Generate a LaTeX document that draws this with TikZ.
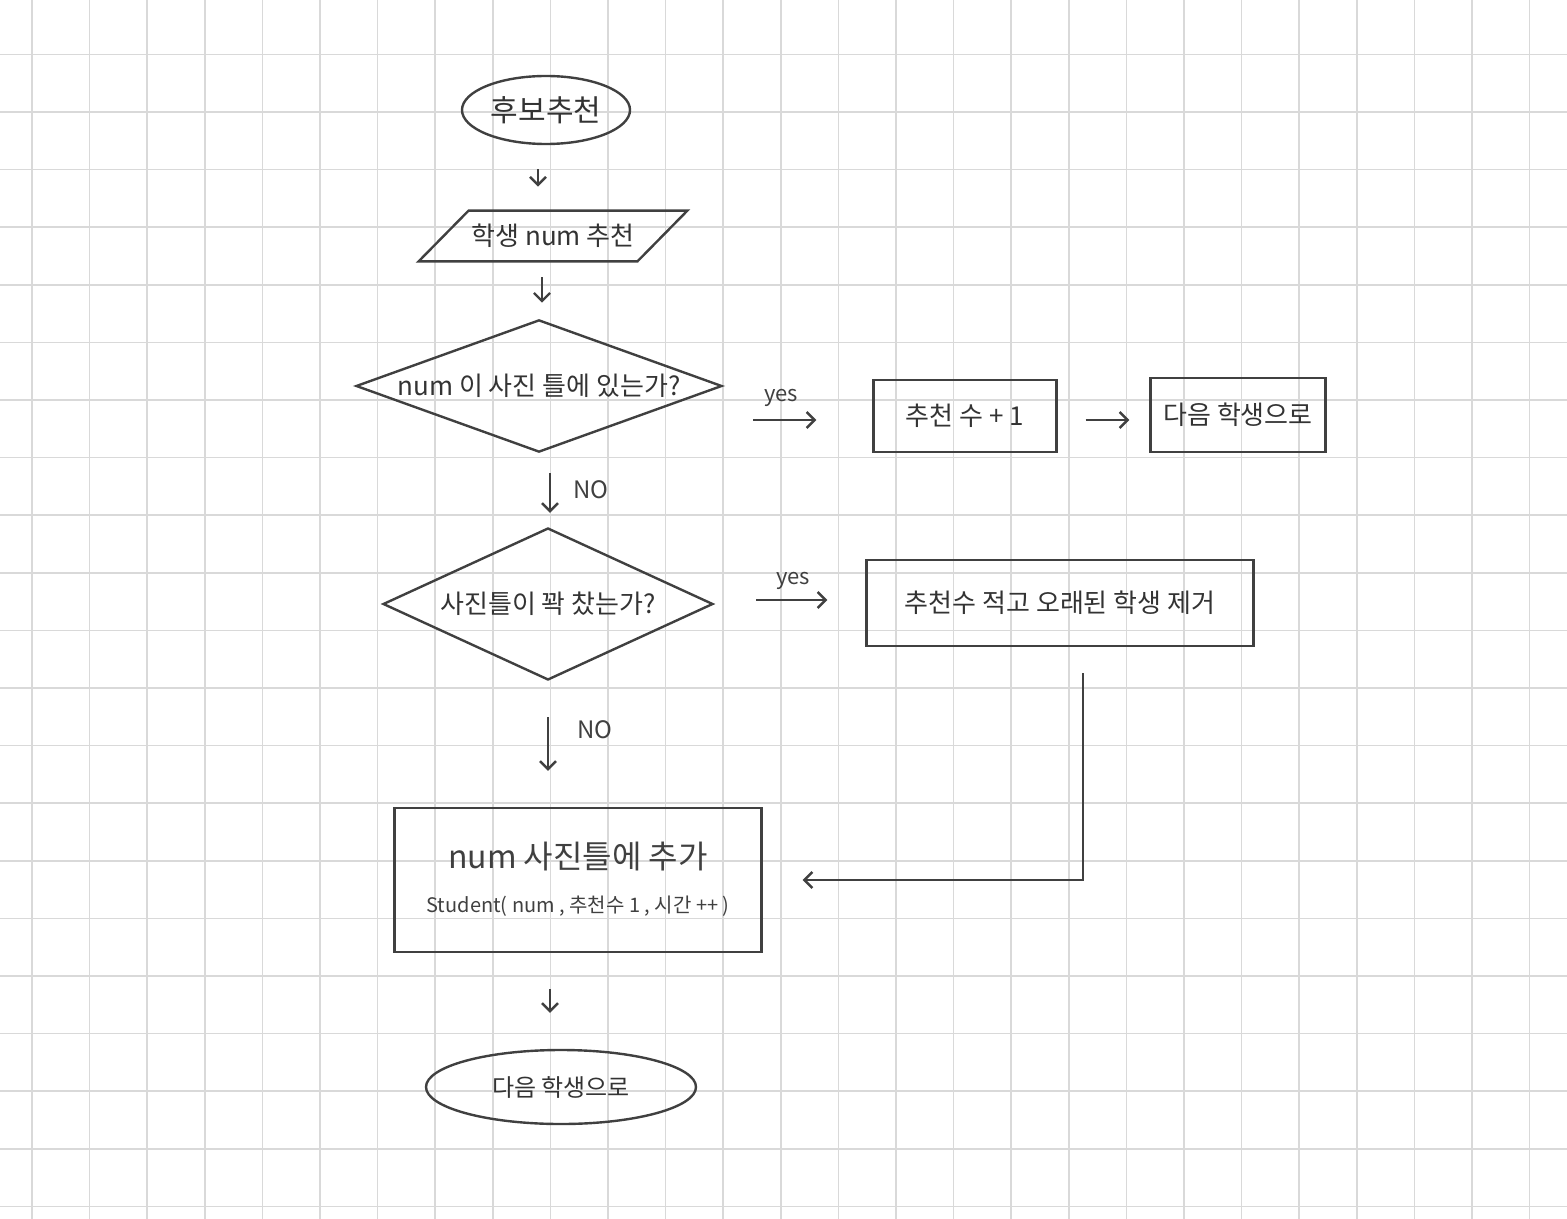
\documentclass[tikz,border=0pt]{standalone}
\usepackage{fontspec}
\setmainfont{Noto Sans CJK KR}
\usetikzlibrary{shapes.geometric,arrows.meta}
\begin{document}
\begin{tikzpicture}
		[x=0.5pt,y=-0.5pt,
		line/.style={draw=black!75,line width=1.2pt,text=black!80},
		term/.style={line,ellipse,inner sep=0pt,font=\fontsize{15}{15}\selectfont},
		inbox/.style={rectangle,inner sep=0pt,text=black!80,font=\fontsize{13}{13}\selectfont},
		decide/.style={line,diamond,aspect=2.6,inner sep=0pt,font=\fontsize{13}{13}\selectfont},
		proc/.style={line,rectangle,inner sep=0pt,font=\fontsize{13}{13}\selectfont},
		flow/.style={line,-{Straight Barb[length=4pt,width=8pt]}},
		lbl/.style={text=black!75,font=\fontsize{12}{12}\selectfont}]
		\useasboundingbox (0,0) rectangle (1567,1219);
		\foreach \x in {32,89.6,...,1567} \draw[black!15,line width=0.8pt] (\x,0) -- (\x,1219);
		\foreach \y in {54.4,112,...,1219} \draw[black!15,line width=0.8pt] (0,\y) -- (1567,\y);
		\node (start) at (546,110) [term,minimum width=84pt,minimum height=34pt] {후보추천};
		\node (input) at (553,236) [inbox,minimum width=109pt,minimum height=25pt] {학생 num 추천};
		\draw[line] ([xshift=-12.5pt]input.south west) -- ([xshift=12.5pt]input.north west)
			-- ([xshift=12.5pt]input.north east) -- ([xshift=-12.5pt]input.south east) -- cycle;
		\node (d1) at (539,386) [decide,minimum width=183pt,minimum height=65pt] {num 이 사진 틀에 있는가?};
		\node (plus) at (965,416) [proc,minimum width=91.5pt,minimum height=36pt] {추천 수 + 1};
		\node (next1) at (1238,415) [proc,minimum width=87.5pt,minimum height=37pt] {다음 학생으로};
		\node (d2) at (548,604) [decide,minimum width=165pt,minimum height=76pt] {사진틀이 꽉 찼는가?};
		\node (remove) at (1060,603) [proc,minimum width=193.5pt,minimum height=43pt] {추천수 적고 오래된 학생 제거};
		\node (add) at (578,880) [proc,minimum width=183.5pt,minimum height=72pt] {};
		\node (addtop) at (578,857) [font=\fontsize{16}{16}\selectfont,text=black!75] {num 사진틀에 추가};
		\node (addsub) at (578,906) [font=\fontsize{10}{10}\selectfont,text=black!75] {Student( num , 추천수 1 , 시간 ++ )};
		\node (next2) at (561,1087) [term,minimum width=135pt,minimum height=37pt,font=\fontsize{12}{12}\selectfont] {다음 학생으로};
		\coordinate (turn) at (1083,673);
		% connectors
		\draw[flow,shorten <=12pt,shorten >=12pt] (start.south -| 538,0) -- (input.north -| 538,0);
		\draw[flow,shorten <=8pt,shorten >=8pt] (input.south -| 542,0) -- (d1.north -| 542,0);
		\draw[flow,shorten <=10pt,shorten >=7pt] (d1.south -| 550,0) -- (d2.north -| 550,0);
		\node[lbl] at (591,490) {NO};
		\draw[flow,shorten <=18pt,shorten >=18pt] (d2.south -| 548,0) -- (add.north -| 548,0);
		\node[lbl] at (595,730) {NO};
		\draw[flow,shorten <=15pt,shorten >=28pt] (d1.east |- 0,420) -- (plus.west |- 0,420);
		\node[lbl,font=\itshape\fontsize{11}{11}\selectfont] at (781,398) {yes};
		\draw[flow,shorten <=14pt,shorten >=10pt] (plus.east |- 0,420) -- (next1.west |- 0,420);
		\draw[flow,shorten <=21pt,shorten >=19pt] (d2.east |- 0,600) -- (remove.west |- 0,600);
		\node[lbl,font=\itshape\fontsize{11}{11}\selectfont] at (793,581) {yes};
		\draw[flow] (turn) |- ([xshift=20pt]add.east);
		\draw[flow,shorten <=18pt,shorten >=18pt] (add.south -| 550,0) -- (next2.north -| 550,0);
	\end{tikzpicture}
\end{document}
